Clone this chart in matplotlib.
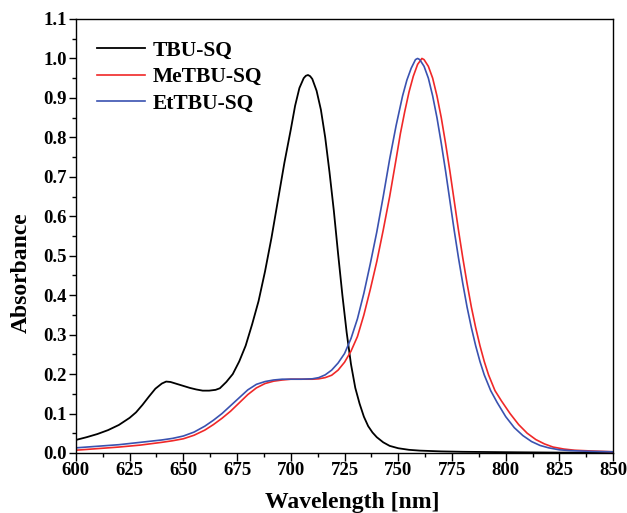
import numpy as np
import matplotlib.pyplot as plt
from matplotlib.ticker import MultipleLocator

# normalised absorbance spectra, wavelength in nm
tbu_nm = [600, 605, 610, 615, 620, 625, 628, 631, 634, 637, 640, 642, 644, 647, 650,
          653, 656, 659, 662, 665, 667, 670, 673, 676, 679, 682, 685, 688, 691, 694,
          697, 700, 702, 704, 706, 707, 708, 709, 710, 712, 714, 716, 718, 720, 722,
          724, 726, 728, 730, 732, 734, 736, 738, 740, 743, 746, 750, 755, 760, 770,
          780, 800, 825, 850]
tbu_abs = [0.033, 0.040, 0.048, 0.058, 0.071, 0.089, 0.103, 0.122, 0.143, 0.163, 0.176,
           0.181, 0.180, 0.175, 0.170, 0.165, 0.161, 0.158, 0.158, 0.160, 0.164, 0.180,
           0.200, 0.232, 0.272, 0.326, 0.385, 0.460, 0.545, 0.640, 0.735, 0.820, 0.880,
           0.925, 0.950, 0.956, 0.958, 0.955, 0.948, 0.918, 0.870, 0.800, 0.712, 0.615,
           0.505, 0.400, 0.305, 0.225, 0.165, 0.125, 0.092, 0.068, 0.052, 0.040, 0.027,
           0.018, 0.012, 0.008, 0.006, 0.004, 0.003, 0.002, 0.001, 0.001]

me_nm = [600, 610, 620, 630, 640, 645, 650, 655, 660, 664, 668, 672, 676, 680, 684,
         688, 692, 696, 700, 705, 710, 713, 716, 719, 722, 725, 728, 731, 734, 737,
         740, 743, 746, 749, 751, 753, 755, 757, 759, 761, 762, 764, 766, 768, 770,
         772, 774, 776, 778, 780, 782, 784, 786, 788, 790, 792, 795, 798, 802, 806,
         810, 814, 818, 822, 827, 832, 840, 850]
me_abs = [0.007, 0.011, 0.015, 0.020, 0.027, 0.031, 0.036, 0.045, 0.058, 0.072, 0.088,
          0.106, 0.127, 0.148, 0.165, 0.176, 0.182, 0.185, 0.187, 0.187, 0.187, 0.188,
          0.191, 0.197, 0.210, 0.230, 0.258, 0.295, 0.350, 0.415, 0.485, 0.565, 0.650,
          0.745, 0.810, 0.865, 0.915, 0.955, 0.985, 1.000, 0.997, 0.980, 0.950, 0.905,
          0.850, 0.785, 0.715, 0.640, 0.565, 0.495, 0.430, 0.370, 0.318, 0.272, 0.232,
          0.198, 0.158, 0.132, 0.100, 0.072, 0.050, 0.034, 0.023, 0.015, 0.010, 0.007,
          0.005, 0.003]

et_nm = [600, 610, 620, 630, 640, 645, 650, 655, 660, 664, 668, 672, 676, 680, 684,
         688, 692, 696, 700, 705, 710, 713, 716, 719, 722, 725, 728, 731, 734, 737,
         740, 743, 746, 749, 752, 754, 756, 758, 759, 760, 762, 764, 766, 768, 770,
         772, 774, 776, 778, 780, 782, 784, 786, 788, 790, 793, 796, 800, 804, 808,
         812, 816, 820, 825, 830, 840, 850]
et_abs = [0.013, 0.017, 0.021, 0.027, 0.033, 0.037, 0.043, 0.053, 0.068, 0.083, 0.100,
          0.120, 0.140, 0.160, 0.174, 0.181, 0.185, 0.187, 0.187, 0.187, 0.188, 0.191,
          0.198, 0.210, 0.228, 0.252, 0.290, 0.340, 0.405, 0.480, 0.560, 0.650, 0.745,
          0.830, 0.905, 0.945, 0.975, 0.997, 1.000, 0.997, 0.980, 0.950, 0.905, 0.850,
          0.785, 0.715, 0.640, 0.565, 0.495, 0.430, 0.370, 0.318, 0.272, 0.232, 0.198,
          0.158, 0.128, 0.092, 0.064, 0.044, 0.029, 0.019, 0.013, 0.008, 0.006, 0.004,
          0.003]

plt.rcParams['font.family'] = ['Liberation Serif', 'DejaVu Serif']
plt.rcParams['font.weight'] = 'bold'

fig = plt.figure(figsize=(6.27, 5.13), dpi=100)
ax = fig.add_axes([0.121, 0.117, 0.857, 0.846])

ax.plot(tbu_nm, tbu_abs, color='black', lw=1.3, label='TBU-SQ')
ax.plot(me_nm, me_abs, color='#f02828', lw=1.2, label='MeTBU-SQ')
ax.plot(et_nm, et_abs, color='#3a52b0', lw=1.2, label='EtTBU-SQ')

ax.set_xlim(600, 850)
ax.set_ylim(0, 1.1)
ax.xaxis.set_major_locator(MultipleLocator(25))
ax.xaxis.set_minor_locator(MultipleLocator(12.5))
ax.yaxis.set_major_locator(MultipleLocator(0.1))
ax.yaxis.set_minor_locator(MultipleLocator(0.05))
ax.tick_params(which='major', direction='out', length=5.4, width=1.0, labelsize=13.5, pad=1)
ax.tick_params(which='minor', direction='out', length=3, width=1.0)
for lab in ax.get_xticklabels() + ax.get_yticklabels():
    lab.set_fontweight('bold')
for s in ax.spines.values():
    s.set_linewidth(1.0)

ax.set_xlabel('Wavelength [nm]', fontsize=17, fontweight='bold')
ax.set_ylabel('Absorbance', fontsize=17, fontweight='bold')
ax.xaxis.set_label_coords(0.514, -0.09)
ax.yaxis.set_label_coords(-0.082, 0.415)

ax.legend(loc='upper left', frameon=False, handlelength=2.2,
          handletextpad=0.37, labelspacing=0.3, borderaxespad=0.6,
          prop={'weight': 'bold', 'size': 15.5})

fig.savefig('out.png', dpi=100)
